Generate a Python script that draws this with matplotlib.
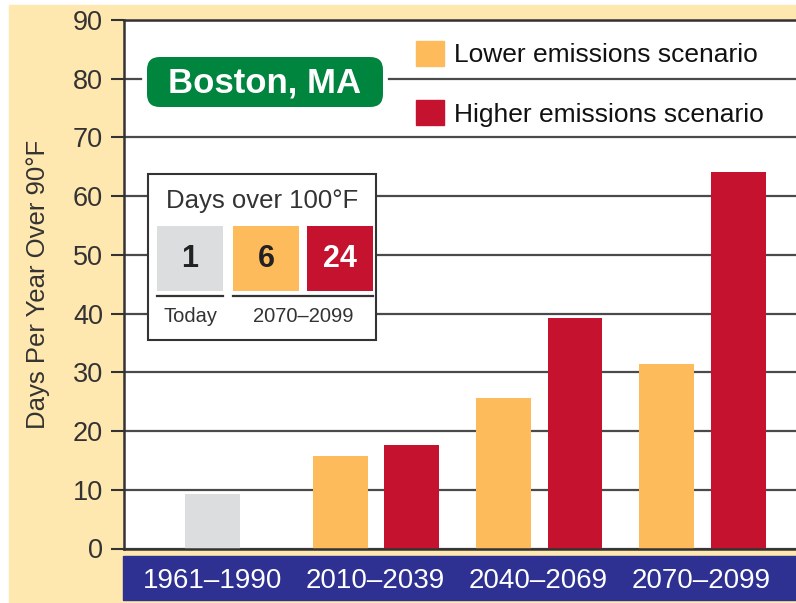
import matplotlib
matplotlib.use("Agg")
import matplotlib.pyplot as plt
from matplotlib.patches import Rectangle, FancyBboxPatch, Patch
from matplotlib.lines import Line2D
import numpy as np

plt.rcParams['font.family'] = ['Liberation Sans', 'DejaVu Sans']

# days per year over 90F
periods = ["1961–1990", "2010–2039", "2040–2069", "2070–2099"]
baseline = 9.2
lower = [15.7, 25.7, 31.5]
higher = [17.7, 39.3, 64.2]

# days over 100F inset (today, lower, higher)
hot_labels = ["1", "6", "24"]

CREAM = "#FFE8AF"
GRAY = "#DCDDDE"
ORANGE = "#FDBB5C"
RED = "#C4122F"
GREEN = "#00853F"
BLUE = "#2E3192"
DARK = "#333333"

W, H = 796, 603
fig = plt.figure(figsize=(W / 100, H / 100), dpi=100, facecolor="white")

# cream page behind everything, plus the blue band under the axis
fig.add_artist(Rectangle((9 / W, 0), 1 - 9 / W, 598 / H, transform=fig.transFigure,
                         color=CREAM, zorder=-10))
fig.add_artist(Rectangle((123 / W, 3 / H), 673 / W, 44 / H, transform=fig.transFigure,
                         color=BLUE, zorder=-5))

ax_l, ax_r, ax_t, ax_b = 124, 796, 20, 548.5
ax = fig.add_axes([ax_l / W, (H - ax_b) / H, (ax_r - ax_l) / W, (ax_b - ax_t) / H])
ax.set_facecolor("white")


def px(x, y):
    # figure pixel position -> axes fraction
    return (x - ax_l) / (ax_r - ax_l), (ax_b - y) / (ax_b - ax_t)


x = np.arange(len(periods))
bw = 0.337
ax.bar(x[0], baseline, bw, color=GRAY, zorder=2)
ax.bar(x[1:] - 0.215, lower, bw, color=ORANGE, zorder=2)
ax.bar(x[1:] + 0.225, higher, bw, color=RED, zorder=2)

ax.set_xlim(-0.54, 3.58)
ax.set_ylim(0, 90)
ax.set_yticks(range(0, 91, 10))
ax.yaxis.grid(True, color="#4a4a4a", lw=1.6)
ax.set_axisbelow(True)
ax.tick_params(axis="y", length=9.5, width=1.5, color=DARK, labelsize=19.5,
               labelcolor=DARK, pad=5.5)
ax.set_xticks(x, periods)
ax.tick_params(axis="x", length=0, labelsize=20, labelcolor="white", pad=14)
for s in ["left", "top", "bottom"]:
    ax.spines[s].set_color(DARK)
    ax.spines[s].set_linewidth(1.8)
ax.spines["right"].set_visible(False)

fig.text(38 / W, (H - 284) / H, "Days Per Year Over 90°F", rotation=90,
         ha="center", va="center", fontsize=18.5, color=DARK)

# legend
handles = [Patch(color=ORANGE), Patch(color=RED)]
leg = ax.legend(handles, ["Lower emissions scenario", "Higher emissions scenario"],
                loc="upper left", bbox_to_anchor=px(416, 41), frameon=False,
                fontsize=19, handlelength=1.06, handleheight=1.06,
                handletextpad=0.38, labelspacing=1.25, borderpad=0,
                borderaxespad=0)
for t in leg.get_texts():
    t.set_color("#111111")

# Boston, MA label
x0, y0 = px(147, 107)
x1, y1 = px(383, 57)
asp = (ax_r - ax_l) / (ax_b - ax_t)
for fc, lw in [("white", 7), (GREEN, 0)]:
    ax.add_patch(FancyBboxPatch((x0, y0), x1 - x0, y1 - y0,
                                boxstyle="round,pad=0,rounding_size=0.019",
                                mutation_aspect=asp, transform=ax.transAxes,
                                fc=fc, ec="white", lw=lw, zorder=4))
ax.text(*px(265, 83), "Boston, MA", transform=ax.transAxes, ha="center",
        va="center", fontsize=25, fontweight="bold", color="white", zorder=5)

# inset box: days over 100F
bx0, by0 = px(148, 340)
bx1, by1 = px(376, 174)
ax.add_patch(Rectangle((bx0, by0), bx1 - bx0, by1 - by0, transform=ax.transAxes,
                       fc="white", ec=DARK, lw=1.5, zorder=4))
ax.text(*px(262, 201), "Days over 100°F", transform=ax.transAxes, ha="center",
        va="center", fontsize=18.5, color=DARK, zorder=5)
cells = [(157, 223, GRAY, "#222222"), (233, 299, ORANGE, "#222222"),
         (307, 373, RED, "white")]
for (cl, cr, fc, tc), lab in zip(cells, hot_labels):
    cx0, cy0 = px(cl, 291)
    cx1, cy1 = px(cr, 226)
    ax.add_patch(Rectangle((cx0, cy0), cx1 - cx0, cy1 - cy0, transform=ax.transAxes,
                           fc=fc, ec="none", zorder=5))
    ax.text(*px((cl + cr) / 2, 259), lab, transform=ax.transAxes, ha="center",
            va="center", fontsize=22, fontweight="bold", color=tc, zorder=6)
for l, r in [(157, 223), (233, 373)]:
    (lx0, ly), (lx1, _) = px(l, 296), px(r, 296)
    ax.add_line(Line2D([lx0, lx1], [ly, ly], transform=ax.transAxes, color=DARK,
                       lw=1.6, zorder=6))
ax.text(*px(190, 317), "Today", transform=ax.transAxes, ha="center", va="center",
        fontsize=14.5, color=DARK, zorder=6)
ax.text(*px(303, 317), "2070–2099", transform=ax.transAxes, ha="center",
        va="center", fontsize=14.5, color=DARK, zorder=6)

fig.savefig("out.png", dpi=100, facecolor=fig.get_facecolor())
